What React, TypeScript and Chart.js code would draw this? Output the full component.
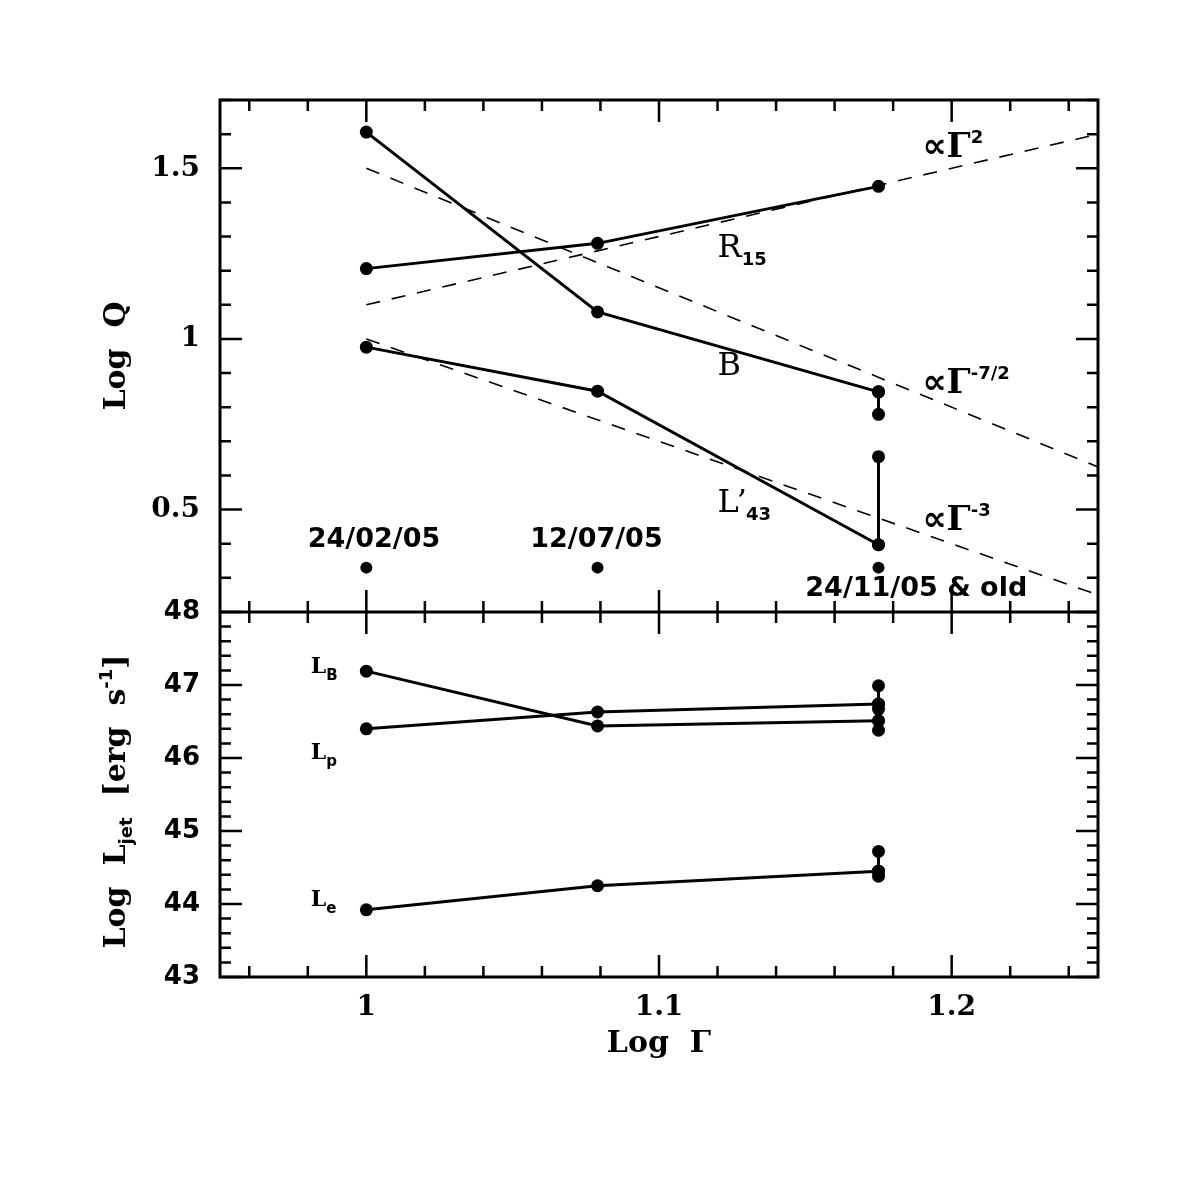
import { useEffect, useRef } from "react";
import { Chart, registerables } from "chart.js";
import type { ChartConfiguration, Plugin, Scale } from "chart.js";

Chart.register(...registerables);

// Log Γ of the three epochs
const logGamma = [1, 1.079, 1.175];
const epochNames = ["24/02/05", "12/07/05", "24/11/05 & old"];

// upper panel: Log Q
const logB = [1.606, 1.079, 0.845];
const logR15 = [1.206, 1.28, 1.447];
const logL43 = [0.976, 0.847, 0.397];
const logBOld = [0.845, 0.779];
const logL43Old = [0.397, 0.655];
const epochMark = [0.33, 0.33, 0.33];

// power-law guides, end points at Log Γ = 1 and 1.25
const guideX = [1, 1.25];
const guideGamma2 = [1.1, 1.6];
const guideGamma72 = [1.5, 0.625];
const guideGamma3 = [1.0, 0.25];

// lower panel: Log L_jet
const logLB = [47.19, 46.44, 46.51];
const logLp = [46.4, 46.63, 46.74];
const logLe = [43.92, 44.25, 44.45];
const logLpOld = [46.99, 46.74, 46.67];
const logLBOld = [46.51, 46.38];
const logLeOld = [44.72, 44.45, 44.38];

const xTickValues = [1, 1.1, 1.2];
const qTickValues = [0.5, 1, 1.5];
const ljetTickValues = [43, 44, 45, 46, 47, 48];

const SERIF = "'DejaVu Serif', serif";
const SANS = "'DejaVu Sans', sans-serif";

const pts = (xs: number[], ys: number[]) => ys.map((y, i) => ({ x: xs[i], y }));
const atLastEpoch = (ys: number[]) => ys.map((y) => ({ x: logGamma[2], y }));

function solid(data: { x: number; y: number }[], yAxisID: string, showLine = true) {
  return {
    data,
    yAxisID,
    showLine,
    borderColor: "#000",
    backgroundColor: "#000",
    borderWidth: 3,
    pointRadius: 6.5,
    pointBorderWidth: 0,
    pointBackgroundColor: "#000",
  };
}

function guide(data: { x: number; y: number }[]) {
  return {
    data,
    yAxisID: "yTop",
    showLine: true,
    borderColor: "#000",
    borderWidth: 1.6,
    borderDash: [14, 12],
    pointRadius: 0,
  };
}

type Part = { t: string; font: string; dy?: number; dx?: number };

function partsWidth(ctx: CanvasRenderingContext2D, parts: Part[]) {
  let w = 0;
  for (const p of parts) {
    ctx.font = p.font;
    w += ctx.measureText(p.t).width + (p.dx || 0);
  }
  return w;
}

function drawParts(ctx: CanvasRenderingContext2D, x: number, y: number, parts: Part[]) {
  let cx = x;
  for (const p of parts) {
    ctx.font = p.font;
    cx += p.dx || 0;
    ctx.fillText(p.t, cx, y + (p.dy || 0));
    cx += ctx.measureText(p.t).width;
  }
}

const MAJOR = 22;
const MINOR = 11;

const framePlugin: Plugin<"scatter"> = {
  id: "frameAndLabels",
  afterDraw(chart) {
    const { ctx, chartArea } = chart;
    const sx = chart.scales.x as Scale;
    const st = chart.scales.yTop as Scale;
    const sb = chart.scales.yBot as Scale;

    ctx.save();
    ctx.strokeStyle = "#000";
    ctx.fillStyle = "#000";
    ctx.lineWidth = 3;
    ctx.strokeRect(chartArea.left, chartArea.top, chartArea.width, chartArea.height);
    ctx.beginPath();
    ctx.moveTo(chartArea.left, st.bottom);
    ctx.lineTo(chartArea.right, st.bottom);
    ctx.stroke();

    // inward ticks on every side of both panels
    ctx.lineWidth = 2.5;
    ctx.beginPath();
    const edges: [number, number][] = [
      [st.top, 1],
      [st.bottom, -1],
      [sb.top, 1],
      [sb.bottom, -1],
    ];
    for (let i = 48; i <= 62; i++) {
      const px = sx.getPixelForValue(i / 50);
      const len = i % 5 === 0 ? MAJOR : MINOR;
      for (const [edge, dir] of edges) {
        ctx.moveTo(px, edge);
        ctx.lineTo(px, edge + dir * len);
      }
    }
    const yTicks = (scale: Scale, values: number[], isMajor: (i: number) => boolean) => {
      values.forEach((v, i) => {
        const py = scale.getPixelForValue(v);
        const len = isMajor(i) ? MAJOR : MINOR;
        ctx.moveTo(chartArea.left, py);
        ctx.lineTo(chartArea.left + len, py);
        ctx.moveTo(chartArea.right, py);
        ctx.lineTo(chartArea.right - len, py);
      });
    };
    const topVals: number[] = [];
    for (let i = 2; i <= 17; i++) topVals.push(i / 10);
    yTicks(st, topVals, (i) => (i + 2) % 5 === 0);
    const botVals: number[] = [];
    for (let i = 215; i <= 240; i++) botVals.push(i / 5);
    yTicks(sb, botVals, (i) => (i + 215) % 5 === 0);
    ctx.stroke();

    // labels inside the panels
    ctx.textAlign = "left";
    ctx.textBaseline = "alphabetic";
    const big = `32px ${SERIF}`;
    const sub = `bold 18px ${SANS}`;
    const at = (xv: number, yv: number, scale: Scale, parts: Part[]) =>
      drawParts(ctx, sx.getPixelForValue(xv), scale.getPixelForValue(yv), parts);

    at(1.12, 1.24, st, [{ t: "R", font: big }, { t: "15", font: sub, dy: 8 }]);
    at(1.12, 0.894, st, [{ t: "B", font: big }]);
    at(1.12, 0.493, st, [
      { t: "L", font: big },
      { t: "’", font: big, dx: -2 },
      { t: "43", font: sub, dy: 8, dx: -1 },
    ]);
    const prop = `bold 34px ${SANS}`;
    const gam = `bold 34px ${SERIF}`;
    at(1.19, 1.533, st, [
      { t: "∝", font: prop },
      { t: "Γ", font: gam },
      { t: "2", font: sub, dy: -14, dx: 0 },
    ]);
    at(1.19, 0.842, st, [
      { t: "∝", font: prop },
      { t: "Γ", font: gam },
      { t: "-7/2", font: sub, dy: -14, dx: 0 },
    ]);
    at(1.19, 0.44, st, [
      { t: "∝", font: prop },
      { t: "Γ", font: gam },
      { t: "-3", font: sub, dy: -14, dx: 0 },
    ]);

    const dateFont = `bold 27px ${SANS}`;
    at(0.98, 0.39, st, [{ t: epochNames[0], font: dateFont }]);
    at(1.056, 0.39, st, [{ t: epochNames[1], font: dateFont }]);
    at(1.15, 0.247, st, [{ t: epochNames[2], font: dateFont }]);

    const small = `bold 22px ${SERIF}`;
    const sub2 = `bold 15px ${SANS}`;
    at(0.981, 47.16, sb, [{ t: "L", font: small }, { t: "B", font: sub2, dy: 7 }]);
    at(0.981, 45.99, sb, [{ t: "L", font: small }, { t: "p", font: sub2, dy: 7 }]);
    at(0.981, 43.97, sb, [{ t: "L", font: small }, { t: "e", font: sub2, dy: 7 }]);

    // axis titles
    const title = `bold 30px ${SERIF}`;
    const titleSub = `bold 18px ${SANS}`;
    const xMid = (chartArea.left + chartArea.right) / 2;
    const xt: Part[] = [{ t: "Log  Γ", font: title }];
    drawParts(ctx, xMid - partsWidth(ctx, xt) / 2, chartArea.bottom + 75, xt);

    const rotated = (cy: number, parts: Part[]) => {
      ctx.save();
      ctx.translate(114, cy);
      ctx.rotate(-Math.PI / 2);
      drawParts(ctx, -partsWidth(ctx, parts) / 2, 11, parts);
      ctx.restore();
    };
    rotated((st.top + st.bottom) / 2, [{ t: "Log  Q", font: title }]);
    rotated((sb.top + sb.bottom) / 2 + 7, [
      { t: "Log  L", font: title },
      { t: "jet", font: titleSub, dy: 7 },
      { t: "  [erg  s", font: title },
      { t: "-1", font: titleSub, dy: -13 },
      { t: "]", font: title },
    ]);
    ctx.restore();
  },
};

export default function App() {
  const canvasRef = useRef<HTMLCanvasElement>(null);

  useEffect(() => {
    if (!canvasRef.current) return;
    Chart.defaults.color = "#000";

    const config: ChartConfiguration<"scatter"> = {
      type: "scatter",
      data: {
        datasets: [
          guide(pts(guideX, guideGamma2)),
          guide(pts(guideX, guideGamma72)),
          guide(pts(guideX, guideGamma3)),
          solid(pts(logGamma, logB), "yTop"),
          solid(atLastEpoch(logBOld), "yTop"),
          solid(pts(logGamma, logR15), "yTop"),
          solid(pts(logGamma, logL43), "yTop"),
          solid(atLastEpoch(logL43Old), "yTop"),
          { ...solid(pts(logGamma, epochMark), "yTop", false), pointRadius: 6 },
          solid(pts(logGamma, logLB), "yBot"),
          solid(pts(logGamma, logLp), "yBot"),
          solid(pts(logGamma, logLe), "yBot"),
          solid(atLastEpoch(logLpOld), "yBot"),
          solid(atLastEpoch(logLBOld), "yBot"),
          solid(atLastEpoch(logLeOld), "yBot"),
        ] as any,
      },
      options: {
        responsive: false,
        animation: false,
        devicePixelRatio: 1,
        events: [],
        layout: { padding: { top: 100, right: 98, bottom: 0, left: 0 } },
        plugins: { legend: { display: false }, tooltip: { enabled: false } },
        scales: {
          x: {
            type: "linear",
            position: "bottom",
            min: 0.95,
            max: 1.25,
            grid: { display: false, drawTicks: false },
            border: { display: false },
            afterBuildTicks: (s) => {
              s.ticks = xTickValues.map((value) => ({ value }));
            },
            afterFit: (s) => {
              s.height = 219;
            },
            ticks: {
              padding: 14,
              color: "#000",
              font: { family: SERIF, size: 28, weight: "bold" },
              callback: (v) => String(v),
            },
          },
          yTop: {
            type: "linear",
            position: "left",
            stack: "panels",
            stackWeight: 512,
            weight: 1,
            min: 0.2,
            max: 1.7,
            grid: { display: false, drawTicks: false },
            border: { display: false },
            afterBuildTicks: (s) => {
              s.ticks = qTickValues.map((value) => ({ value }));
            },
            afterFit: (s) => {
              s.width = 220;
            },
            ticks: {
              padding: 20,
              color: "#000",
              font: { family: SERIF, size: 28, weight: "bold" },
              callback: (v) => String(v),
            },
          },
          yBot: {
            type: "linear",
            position: "left",
            stack: "panels",
            stackWeight: 365,
            weight: 0,
            min: 43,
            max: 48,
            grid: { display: false, drawTicks: false },
            border: { display: false },
            afterBuildTicks: (s) => {
              s.ticks = ljetTickValues.map((value) => ({ value }));
            },
            afterFit: (s) => {
              s.width = 220;
            },
            ticks: {
              padding: 20,
              color: "#000",
              font: { family: SANS, size: 26, weight: "bold" },
              callback: (v) => String(v),
            },
          },
        },
      },
      plugins: [framePlugin],
    };

    const chart = new Chart(canvasRef.current, config);
    return () => chart.destroy();
  }, []);

  return (
    <div style={{ position: "fixed", left: 0, top: 0, width: 1196, height: 1196, background: "#fff" }}>
      <canvas ref={canvasRef} width={1196} height={1196} />
    </div>
  );
}
